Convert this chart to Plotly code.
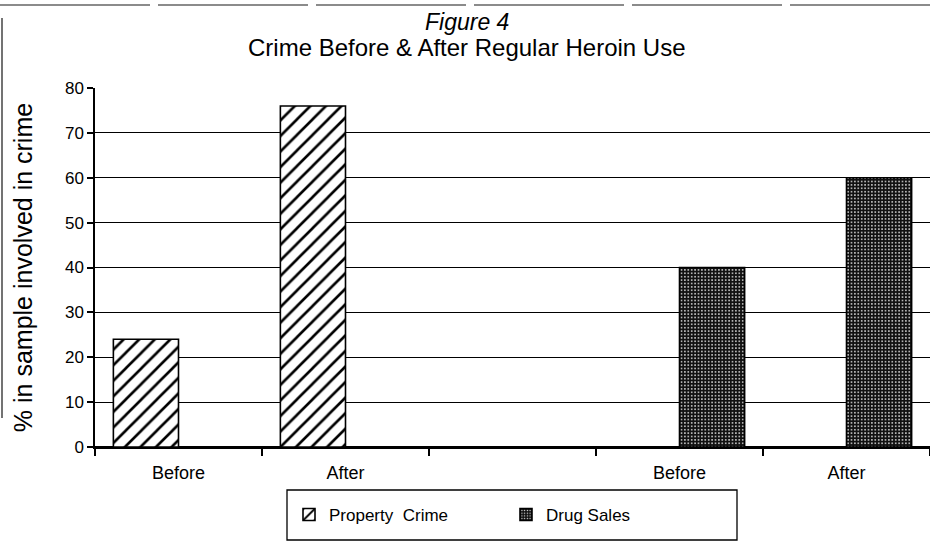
import plotly.graph_objects as go

# ---- data ----
categories = ["pc_before", "pc_after", "gap", "ds_before", "ds_after"]
tick_labels = ["Before", "After", "", "Before", "After"]
property_crime = [24, 76, None, None, None]
drug_sales = [None, None, None, 40, 60]
series_names = ["Property  Crime", "Drug Sales"]
title_line1 = "Figure 4"
title_line2 = "Crime Before & After Regular Heroin Use"
y_title = "% in sample involved in crime"

FONT = "Liberation Sans, Arial, Helvetica, sans-serif"
PW, PH = 835, 359  # plot area size in px (for paper-coordinate placement)

fig = go.Figure()
fig.add_trace(go.Bar(
    x=categories, y=property_crime, name=series_names[0],
    marker=dict(color="white", line=dict(color="black", width=1.6),
                pattern=dict(shape="/", fgcolor="black", bgcolor="white",
                             size=11, solidity=0.24, fillmode="replace")),
))
fig.add_trace(go.Bar(
    x=categories, y=drug_sales, name=series_names[1],
    marker=dict(color="#111111", line=dict(color="black", width=1.6),
                pattern=dict(shape=".", fgcolor="#e6e6e6", bgcolor="#111111",
                             size=3.4, solidity=0.2, fillmode="replace")),
))

fig.update_layout(
    width=930, height=545,
    margin=dict(l=95, r=0, t=88, b=98),
    paper_bgcolor="white", plot_bgcolor="white",
    barmode="group", bargap=0.22, bargroupgap=0,
    font=dict(family=FONT, color="black", size=16),
    showlegend=True,
    legend=dict(
        orientation="h", x=(289 - 95) / PW, xanchor="left",
        y=-68 / PH, yanchor="middle",
        font=dict(family=FONT, size=17, color="black"),
        bgcolor="rgba(0,0,0,0)", borderwidth=0,
        entrywidth=172, entrywidthmode="pixels",
    ),
    xaxis=dict(
        type="category", categoryorder="array", categoryarray=categories,
        tickmode="array", tickvals=categories, ticktext=tick_labels,
        tickson="boundaries", ticks="outside", ticklen=7, tickwidth=1.5,
        tickcolor="black", showgrid=False, showline=True, linecolor="black",
        linewidth=1.5, range=[-0.5, 4.5], ticklabelstandoff=9,
        tickfont=dict(family=FONT, size=18, color="black"),
    ),
    yaxis=dict(
        range=[0, 80], dtick=10, tick0=0,
        showgrid=True, gridcolor="black", gridwidth=1.2,
        showline=True, linecolor="black", linewidth=1.5,
        ticks="outside", ticklen=6, tickwidth=1.5, tickcolor="black",
        zeroline=True, zerolinecolor="black", zerolinewidth=1.5,
        tickfont=dict(family=FONT, size=17, color="black"),
        title=dict(text=y_title,
                   font=dict(family=FONT, size=25, color="black"), standoff=25),
    ),
    annotations=[
        dict(text="<i>" + title_line1 + "</i>", xref="paper", yref="paper",
             x=(467 - 95) / PW, y=1 + 66 / PH, xanchor="center", yanchor="middle",
             showarrow=False, font=dict(family=FONT, size=23, color="black")),
        dict(text=title_line2, xref="paper", yref="paper",
             x=(467 - 95) / PW, y=1 + 40 / PH, xanchor="center", yanchor="middle",
             showarrow=False, font=dict(family=FONT, size=24, color="black")),
    ],
    shapes=[
        # legend frame
        dict(type="rect", xref="paper", yref="paper",
             x0=(287 - 95) / PW, x1=(737 - 95) / PW,
             y0=-43 / PH, y1=-93 / PH,
             line=dict(color="black", width=1.3), fillcolor="rgba(0,0,0,0)"),
        # scanned page edges
        dict(type="line", xref="paper", yref="paper",
             x0=-95 / PW, x1=1, y0=1 + 83 / PH, y1=1 + 83 / PH,
             line=dict(color="#666", width=1.6, dash="150px,8px")),
        dict(type="line", xref="paper", yref="paper",
             x0=-93 / PW, x1=-93 / PW, y0=1 + 70 / PH, y1=1 - 330 / PH,
             line=dict(color="#444", width=1.5)),
    ],
)

fig.write_html("out.html", config={"displayModeBar": False},
               post_script="document.body.style.margin='0px';")
